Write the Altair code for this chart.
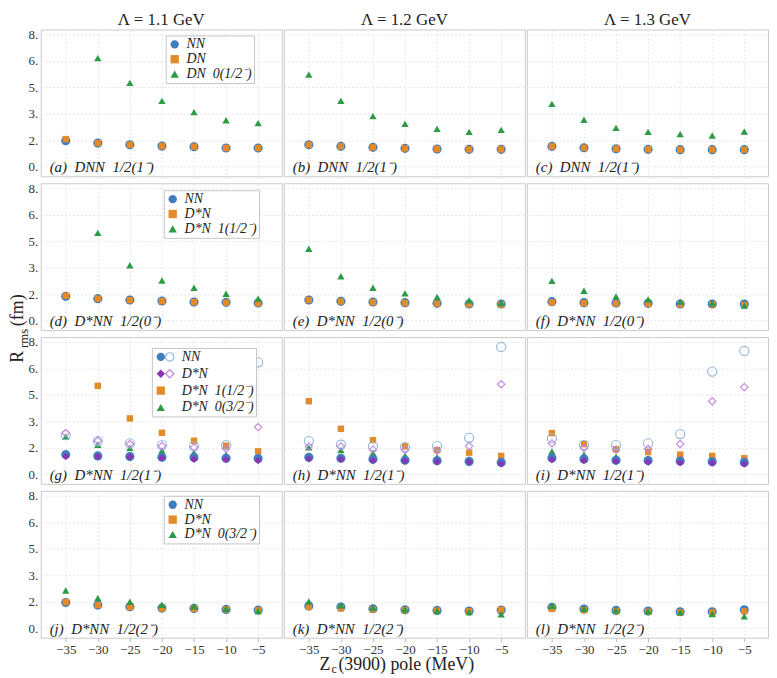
import altair as alt
import pandas as pd

# ---------------- data ----------------
POLE = [-35, -30, -25, -20, -15, -10, -5]
YTICKS = [0, 1.6, 3.2, 4.8, 6.4, 8.0]
COL_TITLES = ["Λ = 1.1 GeV", "Λ = 1.2 GeV", "Λ = 1.3 GeV"]

# row 1 : D N N  1/2(1-)
A_NN = [1.57, 1.43, 1.33, 1.25, 1.21, 1.13, 1.13]
A_DN = [1.67, 1.43, 1.33, 1.25, 1.21, 1.13, 1.13]
A_DN0 = [None, 6.57, 5.07, 3.98, 3.30, 2.81, 2.64]
B_NN = [1.33, 1.23, 1.17, 1.11, 1.07, 1.05, 1.05]
B_DN = [1.33, 1.23, 1.17, 1.11, 1.07, 1.05, 1.05]
B_DN0 = [5.57, 3.98, 3.06, 2.59, 2.29, 2.11, 2.23]
C_NN = [1.23, 1.15, 1.09, 1.05, 1.03, 1.03, 1.03]
C_DN = [1.23, 1.15, 1.09, 1.05, 1.03, 1.03, 1.03]
C_DN0 = [3.80, 2.84, 2.35, 2.11, 1.97, 1.89, 2.13]

# row 2 : D*N N  1/2(0-)
D_NN = [1.46, 1.32, 1.24, 1.18, 1.12, 1.10, 1.06]
D_DSN = [1.50, 1.32, 1.23, 1.17, 1.11, 1.08, 1.04]
D_DSN1 = [None, 5.30, 3.34, 2.42, 1.98, 1.62, 1.32]
E_NN = [1.24, 1.16, 1.12, 1.08, 1.04, 1.00, 1.00]
E_DSN = [1.24, 1.15, 1.10, 1.06, 1.02, 0.98, 0.96]
E_DSN1 = [4.34, 2.68, 1.98, 1.64, 1.42, 1.22, 1.06]
F_NN = [1.14, 1.08, 1.06, 1.04, 1.00, 1.00, 1.00]
F_DSN = [1.10, 1.05, 1.03, 1.00, 0.98, 0.97, 0.94]
F_DSN1 = [2.40, 1.80, 1.46, 1.28, 1.14, 1.04, 0.90]

# row 3 : D*N N  1/2(1-)
G_NN = [1.19, 1.11, 1.07, 1.03, 1.01, 0.97, 0.95]
G_NN_OPEN = [2.37, 2.01, 1.87, 1.77, 1.69, 1.77, 6.77]
G_DSN = [1.07, 1.07, 1.05, 0.99, 0.91, 0.89, 0.83]
G_DSN_OPEN = [2.49, 2.03, 1.83, 1.71, 1.63, 1.55, 2.85]
G_DSN1 = [None, 5.35, 3.38, 2.51, 2.03, 1.73, 1.39]
G_DSN0 = [2.27, 1.79, 1.59, 1.43, 1.31, 1.19, 1.07]
H_NN = [1.03, 0.97, 0.91, 0.85, 0.82, 0.78, 0.72]
H_NN_OPEN = [2.01, 1.79, 1.69, 1.65, 1.71, 2.21, 7.70]
H_DSN = [0.93, 0.91, 0.83, 0.81, 0.76, 0.74, 0.64]
H_DSN_OPEN = [1.69, 1.69, 1.49, 1.47, 1.43, 1.71, 5.45]
H_DSN1 = [4.42, 2.75, 2.07, 1.69, 1.47, 1.31, 1.11]
H_DSN0 = [1.63, 1.47, 1.29, 1.13, 1.03, 0.89, 0.74]
I_NN = [0.99, 0.93, 0.85, 0.83, 0.80, 0.76, 0.72]
I_NN_OPEN = [2.17, 1.77, 1.77, 1.87, 2.43, 6.21, 7.46]
I_DSN = [0.88, 0.83, 0.78, 0.74, 0.70, 0.68, 0.62]
I_DSN_OPEN = [1.87, 1.59, 1.49, 1.53, 1.83, 4.42, 5.27]
I_DSN1 = [2.49, 1.83, 1.51, 1.35, 1.19, 1.11, 0.97]
I_DSN0 = [1.39, 1.19, 1.07, 0.97, 0.91, 0.83, 0.78]

# row 4 : D*N N  1/2(2-)
J_NN = [1.55, 1.39, 1.29, 1.21, 1.19, 1.13, 1.09]
J_DSN = [1.57, 1.39, 1.27, 1.19, 1.17, 1.13, 1.07]
J_DSN0 = [2.27, 1.81, 1.59, 1.41, 1.31, 1.17, 1.03]
K_NN = [1.33, 1.27, 1.17, 1.11, 1.07, 1.03, 1.09]
K_DSN = [1.29, 1.19, 1.13, 1.09, 1.05, 1.01, 1.11]
K_DSN0 = [1.61, 1.37, 1.23, 1.13, 1.05, 0.97, 0.84]
L_NN = [1.25, 1.15, 1.07, 1.03, 0.99, 0.99, 1.11]
L_DSN = [1.17, 1.09, 1.03, 0.99, 0.95, 0.95, 1.01]
L_DSN0 = [1.35, 1.17, 1.07, 1.01, 0.95, 0.85, 0.71]

NB = "\u00a0"
LBL_NN = "NN"
LBL_DN = "DN"
LBL_DN0 = "DN" + NB + NB + "0(1/2⁻)"
LBL_DSN = "D*N"
LBL_DSN1 = "D*N" + NB + NB + "1(1/2⁻)"
LBL_DSN0 = "D*N" + NB + NB + "0(3/2⁻)"


def plab(letter, sys, jp):
    return "(" + letter + ")" + NB * 2 + sys + NB * 2 + jp


PANEL_LABELS = [
    plab("a", "DNN", "1/2(1⁻)"), plab("b", "DNN", "1/2(1⁻)"), plab("c", "DNN", "1/2(1⁻)"),
    plab("d", "D*NN", "1/2(0⁻)"), plab("e", "D*NN", "1/2(0⁻)"), plab("f", "D*NN", "1/2(0⁻)"),
    plab("g", "D*NN", "1/2(1⁻)"), plab("h", "D*NN", "1/2(1⁻)"), plab("i", "D*NN", "1/2(1⁻)"),
    plab("j", "D*NN", "1/2(2⁻)"), plab("k", "D*NN", "1/2(2⁻)"), plab("l", "D*NN", "1/2(2⁻)"),
]

# ---------------- style ----------------
SERIF = "Liberation Serif"
BLUE = "#3f7dbf"
ORANGE = "#e38a2b"
GREEN = "#2b9b46"
PURPLE = "#8b34b3"
LBLUE = "#8fb6de"
LPURPLE = "#c382e3"
GRID = "#e6e6e6"
W, H = 243, 148
XDOM = [-38.9, -1.3]
YDOM = [-0.58, 8.3]
SHAPE_SIZE = {"circle": 85, "square": 42, "triangle-up": 55, "diamond": 55}


def make_df(series):
    rows = []
    for name, vals, z, shp in series:
        for x, v in zip(POLE, vals):
            if v is not None:
                rows.append({"pole": x, "r": v, "s": name, "k": z, "sz": SHAPE_SIZE[shp]})
    return pd.DataFrame(rows)


def legend_params(lx, ly, **kw):
    base = dict(title=None, orient="none", legendX=lx, legendY=ly, direction="vertical",
                labelFont=SERIF, labelFontStyle="italic", labelFontSize=14, labelColor="#222",
                symbolSize=70, rowPadding=1, padding=2, labelOffset=5, symbolStrokeWidth=1)
    base.update(kw)
    return alt.Legend(**base)


def txt(s, x, y, size, **kw):
    return alt.Chart(pd.DataFrame({"t": [s]})).mark_text(
        font=SERIF, fontSize=size, color="#222", **kw
    ).encode(x=alt.value(x), y=alt.value(y), text="t:N")


def panel(idx, filled, opened=None, leg=None, extra=None):
    row, col = divmod(idx, 3)
    bottom = row == 3
    left = col == 0
    xaxis = alt.Axis(values=POLE, grid=True, gridColor=GRID, gridDash=[2, 2], domain=False,
                     labels=bottom, ticks=bottom, tickColor="#bbbbbb", tickSize=4,
                     labelFont=SERIF, labelFontSize=13, labelColor="#333", labelPadding=2)
    yaxis = alt.Axis(values=YTICKS, grid=True, gridColor=GRID, gridDash=[2, 2], domain=False,
                     labels=left, ticks=False, labelExpr="round(datum.value) + '.'",
                     labelFont=SERIF, labelFontSize=13, labelColor="#333", labelPadding=3)
    x = alt.X("pole:Q", scale=alt.Scale(domain=XDOM, nice=False, zero=False), axis=xaxis, title=None)
    y = alt.Y("r:Q", scale=alt.Scale(domain=YDOM, nice=False, zero=False), axis=yaxis, title=None)
    size = alt.Size("sz:Q", scale=None, legend=None)

    names = [f[0] for f in filled]
    df = make_df([(f[0], f[1], f[4], f[3]) for f in filled])
    lg = None
    if leg is not None:
        kw = {}
        if len(leg) > 2:
            kw["labelOffset"] = 14
            kw["rowPadding"] = 3
        lg = legend_params(leg[0], leg[1], strokeColor="#c4c4c4", fillColor="white", **kw)
    layers = [alt.Chart(df).mark_point(filled=True, opacity=1).encode(
        x=x, y=y, size=size,
        color=alt.Color("s:N", scale=alt.Scale(domain=names, range=[f[2] for f in filled]),
                        legend=lg, sort=names),
        shape=alt.Shape("s:N", scale=alt.Scale(domain=names, range=[f[3] for f in filled]),
                        legend=lg, sort=names),
        order=alt.Order("k:Q"),
    )]
    if opened:
        onames = [o[0] for o in opened]
        odf = make_df([(o[0], o[1], i, o[3]) for i, o in enumerate(opened)])
        olg = None
        if leg is not None and len(leg) > 2:
            olg = legend_params(leg[2], leg[1], labelOpacity=0, symbolStrokeWidth=1.2, rowPadding=3)
        layers.append(
            alt.Chart(odf).mark_point(filled=False, strokeWidth=1.1, opacity=1).encode(
                x=x, y=y, size=size,
                color=alt.Color("s:N", scale=alt.Scale(domain=onames, range=[o[2] for o in opened]),
                                legend=olg, sort=onames),
                shape=alt.Shape("s:N", scale=alt.Scale(domain=onames, range=[o[3] for o in opened]),
                                legend=olg, sort=onames),
            )
        )
    layers.append(txt(PANEL_LABELS[idx], 9, 139, 15, align="left", baseline="middle", fontStyle="italic"))
    if row == 0:
        layers.append(txt(COL_TITLES[col], W / 2, -9.5, 17, align="center", baseline="middle"))
    if extra:
        layers.extend(extra)
    ch = alt.layer(*layers).resolve_scale(color="independent", shape="independent")
    return ch.properties(width=W, height=H)


# axis titles (annotation text)
ytitle = [
    txt("R", -18, 181, 18, align="left", baseline="alphabetic", angle=270),
    txt("rms", -13, 166, 13, align="left", baseline="alphabetic", angle=270),
    txt("(fm)", -18, 144, 18, align="left", baseline="alphabetic", angle=270),
]
xtitle = [
    txt("Z", 36, 181, 18, align="left", baseline="alphabetic"),
    txt("c", 48, 184, 12, align="left", baseline="alphabetic"),
    txt("(3900) pole (MeV)", 55, 181, 18, align="left", baseline="alphabetic"),
]

S_NN = "circle"
S_SQ = "square"
S_TR = "triangle-up"
S_DI = "diamond"


def std_panel(idx, nn, second, third, lbl2, lbl3, leg=None, extra=None):
    return panel(idx, [(LBL_NN, nn, BLUE, S_NN, 0), (lbl2, second, ORANGE, S_SQ, 1),
                       (lbl3, third, GREEN, S_TR, 2)], leg=leg, extra=extra)


def row3_panel(idx, nn, nno, dsn, dsno, dsn1, dsn0, leg=None):
    return panel(idx,
                 [(LBL_NN, nn, BLUE, S_NN, 2), (LBL_DSN, dsn, PURPLE, S_DI, 3),
                  (LBL_DSN1, dsn1, ORANGE, S_SQ, 0), (LBL_DSN0, dsn0, GREEN, S_TR, 1)],
                 opened=[(LBL_NN, nno, LBLUE, S_NN), (LBL_DSN, dsno, LPURPLE, S_DI)],
                 leg=leg)


panels = [
    std_panel(0, A_NN, A_DN, A_DN0, LBL_DN, LBL_DN0, leg=(126, 6)),
    std_panel(1, B_NN, B_DN, B_DN0, LBL_DN, LBL_DN0),
    std_panel(2, C_NN, C_DN, C_DN0, LBL_DN, LBL_DN0),
    std_panel(3, D_NN, D_DSN, D_DSN1, LBL_DSN, LBL_DSN1, leg=(124, 7), extra=ytitle),
    std_panel(4, E_NN, E_DSN, E_DSN1, LBL_DSN, LBL_DSN1),
    std_panel(5, F_NN, F_DSN, F_DSN1, LBL_DSN, LBL_DSN1),
    row3_panel(6, G_NN, G_NN_OPEN, G_DSN, G_DSN_OPEN, G_DSN1, G_DSN0, leg=(112, 11, 121)),
    row3_panel(7, H_NN, H_NN_OPEN, H_DSN, H_DSN_OPEN, H_DSN1, H_DSN0),
    row3_panel(8, I_NN, I_NN_OPEN, I_DSN, I_DSN_OPEN, I_DSN1, I_DSN0),
    std_panel(9, J_NN, J_DSN, J_DSN0, LBL_DSN, LBL_DSN0, leg=(124, 5)),
    std_panel(10, K_NN, K_DSN, K_DSN0, LBL_DSN, LBL_DSN0, extra=xtitle),
    std_panel(11, L_NN, L_DSN, L_DSN0, LBL_DSN, LBL_DSN0),
]

chart = (
    alt.concat(*panels, columns=3, spacing={"row": 7, "column": 2})
    .resolve_scale(color="independent", shape="independent")
    .properties(padding=0, background="white", bounds="flush")
    .configure_view(stroke="#c9c9c9", strokeWidth=1)
)

chart.save("out.html", embed_options={"renderer": "svg", "actions": False})
